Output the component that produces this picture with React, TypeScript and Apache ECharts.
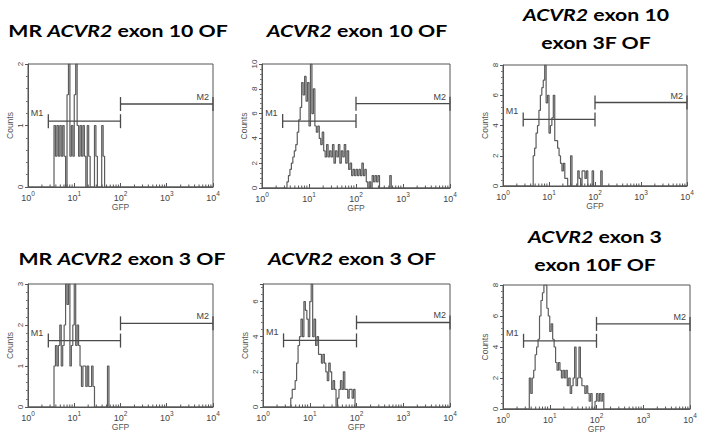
import React, { useEffect, useRef } from "react";
import * as echarts from "echarts";

// ---------- data ----------
const BINS_PER_DECADE = 32;

const p1StartBin = 17;
const p1Counts = [0, 1, 0.5, 1, 0.5, 1, 0.5, 1, 0.5, 0, 1.5, 2, 0.5, 1, 0.5, 1.5, 2, 1, 0.5, 1, 0.5, 1, 0.5, 0, 1, 0.5, 0, 0, 0, 1, 0.5, 0, 0, 0, 1, 0.5, 0];

const p2StartBin = 15;
const p2Counts = [0, 0, 0.5, 1, 1.5, 2, 2.5, 3, 3.5, 4.5, 5.5, 6.5, 8.5, 7.5, 9, 7, 8.5, 5, 10, 6, 8, 5, 4.5, 5, 4, 3.5, 4.5, 3, 2.5, 3.5, 2.5, 3, 2.5, 3.5, 2, 3, 2.5, 3.5, 2, 3, 2.5, 3.5, 2, 3, 1.5, 2, 1, 1.5, 1, 1.5, 1, 1.5, 1, 2, 1, 1.5, 0.5, 0, 0.5, 0, 1, 0.5, 1, 0.5, 1, 0, 0, 0, 0, 0, 0, 0, 1, 0];

const p3StartBin = 20;
const p3Counts = [0, 2, 2.5, 3.5, 4, 5, 6, 6.5, 7, 8, 5.5, 6, 3.5, 4, 4.5, 6, 3, 3, 2.5, 2, 1.5, 1, 1.5, 0.5, 0.5, 0, 0, 2, 0, 0, 0, 0, 1, 0.5, 0, 1, 1, 0.5, 1, 0, 0, 0, 1, 0, 0, 0, 0, 0, 1, 0];

const p4StartBin = 17;
const p4Counts = [0, 1, 1.5, 1, 1.5, 2, 1, 1.5, 2, 3, 2.5, 3, 1, 1.5, 2, 3, 1.5, 2, 1.5, 1, 0.5, 1, 1, 0.5, 1, 0.5, 0.5, 1, 0.5, 0, 0, 0, 0, 0, 0, 0, 0, 0, 1, 0];

const p5StartBin = 18;
const p5Counts = [0, 0.5, 1, 1, 1.5, 2.5, 3.5, 4, 5, 4, 6, 5.5, 5, 4, 6, 7, 4, 5, 3.5, 4, 3, 3, 2.5, 3, 2.5, 2, 1.5, 2.5, 2, 1, 1.5, 1, 0, 0.5, 1, 1.5, 1, 2, 1, 1, 0.5, 1, 1, 0.5, 1, 0];

const p6StartBin = 17;
const p6Counts = [0, 2, 1, 2, 2.5, 3.5, 4, 4.5, 6, 7, 7.5, 8, 8, 6.5, 6, 5, 5.5, 4.5, 4, 3, 2.5, 3, 2.5, 2, 2.5, 2, 2.5, 1.5, 2, 1, 1.5, 2, 4, 1.5, 2, 4, 2, 1.5, 1.5, 1, 1.5, 1, 0.5, 1, 0, 0, 0.5, 1, 0.5, 1, 0.5, 1, 0];

const panelStartBins = [p1StartBin, p2StartBin, p3StartBin, p4StartBin, p5StartBin, p6StartBin];
const panelCounts = [p1Counts, p2Counts, p3Counts, p4Counts, p5Counts, p6Counts];

const panelTitles = [
  ["MR {i|ACVR2} exon 10 OF"],
  ["{i|ACVR2} exon 10 OF"],
  ["{i|ACVR2} exon 10", "exon 3F OF"],
  ["MR {i|ACVR2} exon 3 OF"],
  ["{i|ACVR2} exon 3 OF"],
  ["{i|ACVR2} exon 3", "exon 10F OF"],
];

const yMaxes = [2, 10, 8, 3, 7, 8];
const yIntervals = [1, 2, 2, 1, 2, 2];

const markerNames = ["M1", "M2"];
const m1Range = [2.75, 100];
const m2Range = [100, 10000];
const m1Levels = [1.07, 5.4, 4.4, 1.62, 3.79, 4.4];
const m2Levels = [1.35, 6.8, 5.52, 2.04, 4.81, 5.49];

const xMin = 1;
const xMax = 10000;
const xMinorTicks = [2, 3, 4, 5, 6, 7, 8, 9, 20, 30, 40, 50, 60, 70, 80, 90, 200, 300, 400, 500, 600, 700, 800, 900, 2000, 3000, 4000, 5000, 6000, 7000, 8000, 9000];
const xAxisName = "GFP";
const yAxisName = "Counts";

// ---------- layout ----------
const grids = [
  { left: 28, top: 64, width: 185, height: 123 },
  { left: 262, top: 64, width: 188, height: 124 },
  { left: 503, top: 65, width: 184, height: 121 },
  { left: 28, top: 284, width: 185, height: 123 },
  { left: 263, top: 284, width: 187, height: 123 },
  { left: 503, top: 285, width: 187, height: 124 },
];
const titleX = [118, 357, 596, 122, 352, 595];
const titleYs = [[30], [30], [14, 42], [258], [258], [236, 264]];
const TITLE_FONT = "Lato";
const TITLE_SIZE = 17;
const TITLE_SCALE_X = 1.25;
const AXIS_FONT = "Liberation Sans";
const INK = "#4a4a4a";

export default function App() {
  const ref = useRef<HTMLDivElement>(null);
  useEffect(() => {
    if (!ref.current) return;
    const chart = echarts.init(ref.current, undefined, { renderer: "svg" });

    const series: any[] = [];
    grids.forEach((_, i) => {
      const start = panelStartBins[i];
      const pts: number[][] = [[xMin, 0]];
      panelCounts[i].forEach((c, k) => {
        pts.push([Math.pow(10, (start + k) / BINS_PER_DECADE), c]);
      });
      pts.push([xMax, 0]);
      series.push({
        type: "line",
        xAxisIndex: i,
        yAxisIndex: i,
        step: "end",
        symbol: "none",
        silent: true,
        data: pts,
        lineStyle: { color: "#5c5c5c", width: 1.2 },
        z: 3,
      });
      series.push({
        type: "custom",
        xAxisIndex: i,
        yAxisIndex: i,
        coordinateSystem: "cartesian2d",
        silent: true,
        clip: false,
        z: 10,
        encode: { x: [0, 1], y: 2 },
        data: [
          [m1Range[0], m1Range[1], m1Levels[i], 0],
          [m2Range[0], m2Range[1], m2Levels[i], 1],
        ],
        renderItem: (params: any, api: any) => {
          const y = api.value(2);
          const k = api.value(3);
          const a = api.coord([api.value(0), y]);
          const b = api.coord([api.value(1), y]);
          const st = { stroke: INK, lineWidth: 1.3 };
          const lbl =
            k === 0
              ? { x: a[0] - 5, y: a[1] - 8 }
              : { x: b[0] - 4, y: b[1] - 7 };
          return {
            type: "group",
            children: [
              { type: "line", shape: { x1: a[0], y1: a[1], x2: b[0], y2: b[1] }, style: st },
              { type: "line", shape: { x1: a[0], y1: a[1] - 7, x2: a[0], y2: a[1] + 7 }, style: st },
              { type: "line", shape: { x1: b[0], y1: b[1] - 7, x2: b[0], y2: b[1] + 7 }, style: st },
              {
                type: "text",
                style: {
                  text: markerNames[k],
                  x: lbl.x,
                  y: lbl.y,
                  align: "right",
                  textAlign: "right",
                  verticalAlign: "middle",
                  textVerticalAlign: "middle",
                  fill: "#444",
                  fontSize: 9,
                  fontFamily: AXIS_FONT,
                },
              },
            ],
          };
        },
      });
      series.push({
        type: "custom",
        xAxisIndex: i,
        yAxisIndex: i,
        coordinateSystem: "cartesian2d",
        silent: true,
        z: 6,
        encode: { x: 0, y: 1 },
        data: xMinorTicks.map((v) => [v, 0]),
        renderItem: (params: any, api: any) => {
          const p = api.coord([api.value(0), 0]);
          return {
            type: "line",
            shape: { x1: p[0], y1: p[1], x2: p[0], y2: p[1] - 2.5 },
            style: { stroke: "#555", lineWidth: 1 },
          };
        },
      });
    });

    const graphic: any[] = [];
    panelTitles.forEach((lines, i) => {
      lines.forEach((t, j) => {
        graphic.push({
          type: "text",
          x: titleX[i],
          y: titleYs[i][j],
          scaleX: TITLE_SCALE_X,
          style: {
            text: t,
            fill: "#000",
            fontFamily: TITLE_FONT,
            fontSize: TITLE_SIZE,
            fontWeight: "bold",
            align: "center",
            textAlign: "center",
            verticalAlign: "middle",
            textVerticalAlign: "middle",
            rich: {
              i: { fontFamily: TITLE_FONT, fontSize: TITLE_SIZE, fontWeight: "bold", fontStyle: "italic", fill: "#000", color: "#000" },
            },
          },
        });
      });
    });

    const option: any = {
      animation: false,
      backgroundColor: "#fff",
      grid: grids.map((g) => ({ ...g, show: true, borderColor: "#555", borderWidth: 1 })),
      xAxis: grids.map((_, i) => ({
        type: "log",
        logBase: 10,
        min: xMin,
        max: xMax,
        gridIndex: i,
        name: xAxisName,
        nameLocation: "middle",
        nameGap: 13,
        nameTextStyle: { fontSize: 8.5, color: "#555", fontFamily: AXIS_FONT },
        axisLine: { show: true, lineStyle: { color: "#555", width: 1 } },
        axisTick: { show: true, inside: true, length: 4, lineStyle: { color: "#555" } },
        minorTick: { show: false },
        splitLine: { show: false },
        axisLabel: {
          margin: 3,
          formatter: (v: number) => `{b|10}{s|${Math.round(Math.log10(v))}}`,
          rich: {
            b: { fontSize: 9, color: "#444", fontFamily: AXIS_FONT, padding: [3, 0, 0, 0] },
            s: { fontSize: 6.5, color: "#444", fontFamily: AXIS_FONT, verticalAlign: "top" },
          },
        },
      })),
      yAxis: grids.map((_, i) => ({
        type: "value",
        gridIndex: i,
        min: 0,
        max: yMaxes[i],
        interval: yIntervals[i],
        name: yAxisName,
        nameLocation: "middle",
        nameGap: 14,
        nameRotate: 90,
        nameTextStyle: { fontSize: 8.5, color: "#555", fontFamily: AXIS_FONT },
        axisLine: { show: true, lineStyle: { color: "#555", width: 1 } },
        axisTick: { show: true, length: 3, lineStyle: { color: "#555" } },
        minorTick: { show: true, splitNumber: 5, length: 2, lineStyle: { color: "#777" } },
        splitLine: { show: false },
        axisLabel: {
          rotate: 90,
          fontSize: 8,
          color: "#444",
          margin: 4,
          fontFamily: AXIS_FONT,
          formatter: (v: number) => (v % yIntervals[i] === 0 ? String(v) : ""),
        },
      })),
      series,
      graphic,
    };
    chart.setOption(option);
    return () => chart.dispose();
  }, []);

  return (
    <div
      ref={ref}
      style={{ position: "fixed", left: 0, top: 0, width: 702, height: 436, background: "#fff" }}
    />
  );
}
